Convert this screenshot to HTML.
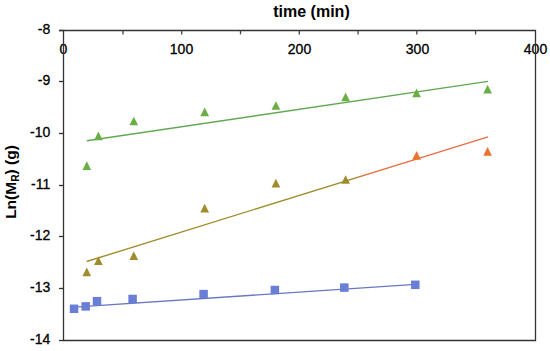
<!DOCTYPE html>
<html><head><meta charset="utf-8"><style>html,body{margin:0;padding:0;background:#fff;width:550px;height:351px;overflow:hidden}svg{display:block}</style></head>
<body><svg width="550" height="351" viewBox="0 0 550 351">
<g font-family="Liberation Sans, sans-serif" font-size="14" fill="#000" stroke="#000" stroke-width="0.3"><text x="50.3" y="33.70" text-anchor="end">-8</text><text x="50.3" y="85.37" text-anchor="end">-9</text><text x="50.3" y="137.03" text-anchor="end">-10</text><text x="50.3" y="188.70" text-anchor="end">-11</text><text x="50.3" y="240.37" text-anchor="end">-12</text><text x="50.3" y="292.03" text-anchor="end">-13</text><text x="50.3" y="343.70" text-anchor="end">-14</text><text x="63.50" y="54" text-anchor="middle">0</text><text x="181.50" y="54" text-anchor="middle">100</text><text x="299.50" y="54" text-anchor="middle">200</text><text x="417.50" y="54" text-anchor="middle">300</text><text x="535.50" y="54" text-anchor="middle">400</text></g>
<path d="M59 30.5H535.5V340.5H63.5V30" fill="none" stroke="#333" stroke-width="1.3"/><path d="M59 30.50H63.5" stroke="#333" stroke-width="1.3"/><path d="M59 81.50H63.5" stroke="#333" stroke-width="1.3"/><path d="M59 133.50H63.5" stroke="#333" stroke-width="1.3"/><path d="M59 185.50H63.5" stroke="#333" stroke-width="1.3"/><path d="M59 236.50H63.5" stroke="#333" stroke-width="1.3"/><path d="M59 288.50H63.5" stroke="#333" stroke-width="1.3"/><path d="M59 340.50H63.5" stroke="#333" stroke-width="1.3"/><path d="M122.97 30.5V34.4" stroke="#444" stroke-width="1.3"/><path d="M181.74 30.5V34.4" stroke="#444" stroke-width="1.3"/><path d="M240.51 30.5V34.4" stroke="#444" stroke-width="1.3"/><path d="M299.28 30.5V34.4" stroke="#444" stroke-width="1.3"/><path d="M358.05 30.5V34.4" stroke="#444" stroke-width="1.3"/><path d="M416.82 30.5V34.4" stroke="#444" stroke-width="1.3"/><path d="M475.59 30.5V34.4" stroke="#444" stroke-width="1.3"/><path d="M86.8 140.7L488 81.4" stroke="#62a852" stroke-width="1.4" fill="none"/><defs><linearGradient id="og" gradientUnits="userSpaceOnUse" x1="354" y1="0" x2="366" y2="0"><stop offset="0" stop-color="#a08c2c"/><stop offset="1" stop-color="#ea6e42"/></linearGradient></defs><path d="M86.7 261.5L488 136.8" stroke="url(#og)" stroke-width="1.4" fill="none"/><path d="M74.5 307.1L415.3 284.4" stroke="#6878c4" stroke-width="1.4" fill="none"/><path d="M86.80 161.25L91.15 169.95L82.45 169.95Z" fill="#6aaf45"/><path d="M98.40 131.55L102.75 140.25L94.05 140.25Z" fill="#6aaf45"/><path d="M133.80 116.65L138.15 125.35L129.45 125.35Z" fill="#6aaf45"/><path d="M204.70 107.45L209.05 116.15L200.35 116.15Z" fill="#6aaf45"/><path d="M275.90 101.15L280.25 109.85L271.55 109.85Z" fill="#6aaf45"/><path d="M345.60 92.45L349.95 101.15L341.25 101.15Z" fill="#6aaf45"/><path d="M416.60 88.55L420.95 97.25L412.25 97.25Z" fill="#6aaf45"/><path d="M487.60 84.85L491.95 93.55L483.25 93.55Z" fill="#6aaf45"/><path d="M86.80 267.45L91.15 276.15L82.45 276.15Z" fill="#a08c2c"/><path d="M98.40 256.35L102.75 265.05L94.05 265.05Z" fill="#a08c2c"/><path d="M133.80 251.35L138.15 260.05L129.45 260.05Z" fill="#a08c2c"/><path d="M204.70 203.85L209.05 212.55L200.35 212.55Z" fill="#a08c2c"/><path d="M275.90 178.85L280.25 187.55L271.55 187.55Z" fill="#a08c2c"/><path d="M345.60 175.15L349.95 183.85L341.25 183.85Z" fill="#a08c2c"/><path d="M416.60 150.95L420.95 159.65L412.25 159.65Z" fill="#ea7330"/><path d="M487.60 146.95L491.95 155.65L483.25 155.65Z" fill="#ea7330"/><rect x="69.80" y="304.55" width="8.5" height="8.5" fill="#6a7ed6"/><rect x="81.45" y="302.15" width="8.5" height="8.5" fill="#6a7ed6"/><rect x="92.75" y="296.95" width="8.5" height="8.5" fill="#6a7ed6"/><rect x="128.35" y="294.75" width="8.5" height="8.5" fill="#6a7ed6"/><rect x="199.35" y="289.85" width="8.5" height="8.5" fill="#6a7ed6"/><rect x="270.65" y="285.75" width="8.5" height="8.5" fill="#6a7ed6"/><rect x="340.05" y="283.35" width="8.5" height="8.5" fill="#6a7ed6"/><rect x="411.05" y="280.55" width="8.5" height="8.5" fill="#6a7ed6"/>
<text x="311.5" y="17.2" text-anchor="middle" font-family="Liberation Sans, sans-serif" font-weight="bold" font-size="16">time (min)</text>
<text transform="translate(16.2 182) rotate(-90)" text-anchor="middle" font-family="Liberation Sans, sans-serif" font-weight="bold" font-size="15.5">Ln(M<tspan font-size="10.3" dy="3">R</tspan><tspan dy="-3">) (g)</tspan></text>
</svg></body></html>
